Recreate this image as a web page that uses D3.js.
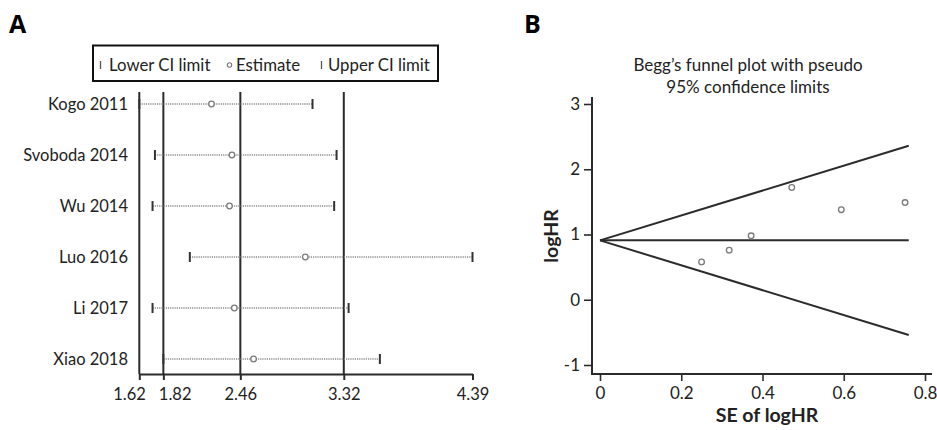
<!DOCTYPE html>
<html><head><meta charset="utf-8">
<script src="https://cdn.jsdelivr.net/npm/d3@7"></script>
<style>
html,body{margin:0;padding:0;background:#fff;}
svg{display:block;font-family:Lato,"Open Sans",sans-serif;}
</style></head>
<body>
<svg id="chart" width="937" height="430"></svg>
<script>
// ---- Panel A data (forest / sensitivity plot) ----
const studies = ["Kogo 2011","Svoboda 2014","Wu 2014","Luo 2016","Li 2017","Xiao 2018"];
const lowerCI = [1.62, 1.75, 1.73, 2.04, 1.73, 1.82];
const estimate = [2.22, 2.39, 2.37, 3.00, 2.41, 2.57];
const upperCI = [3.06, 3.26, 3.24, 4.39, 3.36, 3.62];
const forestTicks = [1.62, 1.82, 2.46, 3.32, 4.39];
const refLines = [1.62, 1.82, 2.46, 3.32];
const legendItems = ["Lower CI limit","Estimate","Upper CI limit"];

// ---- Panel B data (Begg's funnel plot) ----
const seLogHR = [0.250, 0.318, 0.372, 0.472, 0.594, 0.751];
const logHR = [0.58, 0.76, 0.98, 1.72, 1.38, 1.49];
const funnelSE = [0, 0.76];
const funnelUpper = [0.91, 2.36];
const funnelCenter = [0.91, 0.91];
const funnelLower = [0.91, -0.54];
const bXTicks = [0, 0.2, 0.4, 0.6, 0.8];
const bYTicks = [-1, 0, 1, 2, 3];

const svg = d3.select("#chart");
const dark = "#2b2b2b";

// ================= Panel A =================
const gA = svg.append("g");
gA.append("text").attr("x", 9).attr("y", 33).attr("font-size", 25).attr("font-weight", "bold")
  .attr("font-family", "'Open Sans',Lato,sans-serif").text("A");

const xA = d3.scaleLinear().domain([1.62, 4.39]).range([139.3, 472.5]);
const yA = d3.scalePoint().domain(studies).range([104, 359]);
const axisYA = 374;

// reference vertical lines
gA.selectAll("line.ref").data(refLines).join("line")
  .attr("class", "ref")
  .attr("x1", d => xA(d)).attr("x2", d => xA(d))
  .attr("y1", 92).attr("y2", axisYA)
  .attr("stroke", dark).attr("stroke-width", 2);

// x axis
const axA = gA.append("g").attr("transform", `translate(0,${axisYA})`)
  .call(d3.axisBottom(xA).tickValues(forestTicks).tickFormat(d3.format(".2f")).tickSize(6).tickSizeOuter(0).tickPadding(8));
axA.select(".domain").attr("stroke", dark).attr("stroke-width", 2);
axA.selectAll(".tick line").attr("stroke", dark).attr("stroke-width", 2);
axA.selectAll(".tick text").attr("font-size", 16.5).attr("fill", "#222").attr("font-family", "Lato,sans-serif");
// first two labels are nudged apart as in the original figure
axA.selectAll(".tick text").filter(d => d === 1.62).attr("text-anchor", "end").attr("x", 6);
axA.selectAll(".tick text").filter(d => d === 1.82).attr("text-anchor", "start").attr("x", -5);

// study labels
gA.selectAll("text.study").data(studies).join("text")
  .attr("class", "study")
  .attr("x", 128).attr("y", d => yA(d)).attr("dy", "0.35em")
  .attr("text-anchor", "end").attr("font-size", 16.5).attr("fill", "#222")
  .text(d => d);

const rows = studies.map((s, i) => ({s, lo: lowerCI[i], est: estimate[i], hi: upperCI[i]}));
// CI dotted lines
gA.selectAll("line.ci").data(rows).join("line")
  .attr("class", "ci")
  .attr("x1", d => xA(d.lo)).attr("x2", d => xA(d.hi))
  .attr("y1", d => yA(d.s)).attr("y2", d => yA(d.s))
  .attr("stroke", "#8a8a8a").attr("stroke-width", 1.3).attr("stroke-dasharray", "1.2,1");
// caps
["lo", "hi"].forEach(k => {
  gA.selectAll("line.cap" + k).data(rows).join("line")
    .attr("class", "cap" + k)
    .attr("x1", d => xA(d[k])).attr("x2", d => xA(d[k]))
    .attr("y1", d => yA(d.s) - 5).attr("y2", d => yA(d.s) + 5)
    .attr("stroke", "#333").attr("stroke-width", 2);
});
// estimates
gA.selectAll("circle.est").data(rows).join("circle")
  .attr("class", "est")
  .attr("cx", d => xA(d.est)).attr("cy", d => yA(d.s)).attr("r", 2.8)
  .attr("fill", "#fff").attr("stroke", "#7a7a7a").attr("stroke-width", 1.3);

// legend
const leg = gA.append("g");
leg.append("rect").attr("x", 93).attr("y", 45.5).attr("width", 345).attr("height", 35.5)
  .attr("fill", "none").attr("stroke", "#111").attr("stroke-width", 2);
const legX = [109, 236, 328];
const legSym = [100.5, 229.5, 321.5];
legendItems.forEach((t, i) => {
  leg.append("text").attr("x", legX[i]).attr("y", 70.5).attr("font-size", 16.8).attr("fill", "#222").text(t);
  if (i === 1) {
    leg.append("circle").attr("cx", legSym[i]).attr("cy", 65).attr("r", 2.2)
      .attr("fill", "#fff").attr("stroke", "#777").attr("stroke-width", 1.1);
  } else {
    leg.append("line").attr("x1", legSym[i]).attr("x2", legSym[i]).attr("y1", 61).attr("y2", 69)
      .attr("stroke", "#555").attr("stroke-width", 1.3);
  }
});

// ================= Panel B =================
const gB = svg.append("g");
gB.append("text").attr("x", 524).attr("y", 33).attr("font-size", 25).attr("font-weight", "bold")
  .attr("font-family", "'Open Sans',Lato,sans-serif").text("B");

const xB = d3.scaleLinear().domain([0, 0.8]).range([600, 925]);
const yB = d3.scaleLinear().domain([-1, 3]).range([365, 104]);
const axXB = 592, axYB = 374;

gB.append("text").attr("x", 748).attr("y", 71).attr("text-anchor", "middle")
  .attr("font-size", 17).attr("fill", "#222").text("Begg\u2019s funnel plot with pseudo");
gB.append("text").attr("x", 748).attr("y", 93).attr("text-anchor", "middle")
  .attr("font-size", 17).attr("fill", "#222").text("95% confidence limits");

// axes
const xAxB = gB.append("g").attr("transform", `translate(0,${axYB})`)
  .call(d3.axisBottom(xB).tickValues(bXTicks).tickFormat(d => d === 0 ? "0" : d3.format(".1f")(d)).tickSize(7).tickPadding(6));
xAxB.select(".domain").remove();
const yAxB = gB.append("g").attr("transform", `translate(${axXB},0)`)
  .call(d3.axisLeft(yB).tickValues(bYTicks).tickFormat(d => String(d)).tickSize(8).tickPadding(4));
yAxB.select(".domain").remove();
[xAxB, yAxB].forEach(a => {
  a.selectAll(".tick line").attr("stroke", dark).attr("stroke-width", 1.6);
  a.selectAll(".tick text").attr("font-size", 17).attr("fill", "#222").attr("font-family", "Lato,sans-serif");
});
gB.append("line").attr("x1", axXB).attr("x2", axXB).attr("y1", 97).attr("y2", axYB + 1)
  .attr("stroke", dark).attr("stroke-width", 2);
gB.append("line").attr("x1", axXB - 1).attr("x2", 932).attr("y1", axYB).attr("y2", axYB)
  .attr("stroke", dark).attr("stroke-width", 2);

// funnel lines
const lineGen = d3.line().x(d => xB(d[0])).y(d => yB(d[1]));
[funnelUpper, funnelCenter, funnelLower].forEach(arr => {
  gB.append("path").datum(funnelSE.map((s, i) => [s, arr[i]]))
    .attr("d", lineGen).attr("fill", "none").attr("stroke", dark).attr("stroke-width", 2);
});

// points
gB.selectAll("circle.pt").data(seLogHR.map((s, i) => [s, logHR[i]])).join("circle")
  .attr("class", "pt")
  .attr("cx", d => xB(d[0])).attr("cy", d => yB(d[1])).attr("r", 2.8)
  .attr("fill", "#fff").attr("stroke", "#7a7a7a").attr("stroke-width", 1.3);

// axis titles
gB.append("text").attr("x", 767).attr("y", 422).attr("text-anchor", "middle")
  .attr("font-size", 19.5).attr("font-weight", "bold").attr("fill", "#222").text("SE of logHR");
gB.append("text").attr("transform", "translate(558,236) rotate(-90)").attr("text-anchor", "middle")
  .attr("font-size", 19.5).attr("font-weight", "bold").attr("fill", "#222").text("logHR");
</script>
</body></html>
